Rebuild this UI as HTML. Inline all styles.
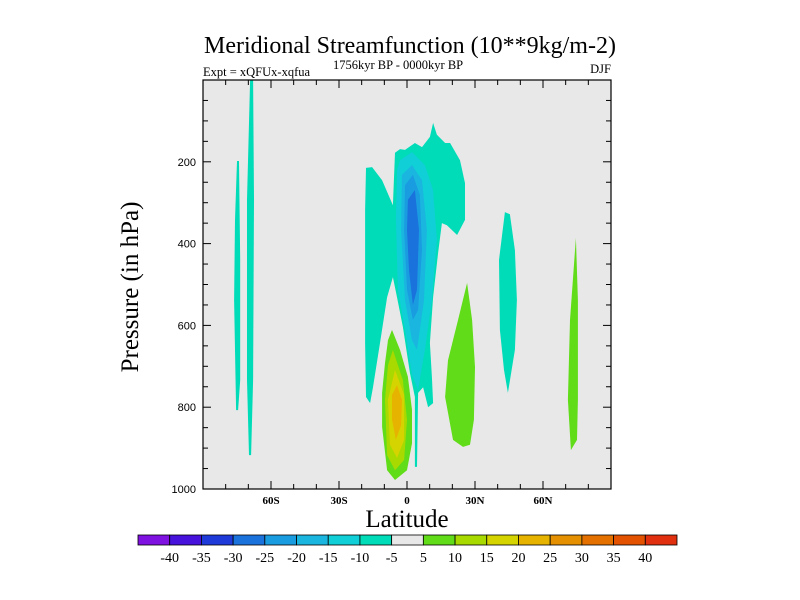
<!DOCTYPE html>
<html><head><meta charset="utf-8"><style>
body{margin:0;background:#fff;}
svg{display:block;}
.s{font-family:"Liberation Serif",serif;}
</style></head><body>
<svg id="chart" width="800" height="600" xmlns="http://www.w3.org/2000/svg">
<text class="s" x="410" y="53" font-size="24" text-anchor="middle">Meridional Streamfunction (10**9kg/m-2)</text>
<text class="s" x="203" y="76" font-size="12.5">Expt = xQFUx-xqfua</text>
<text class="s" x="333" y="69" font-size="12.5">1756kyr BP - 0000kyr BP</text>
<text class="s" x="611" y="73" font-size="12.5" text-anchor="end">DJF</text>
<rect x="203" y="80" width="408" height="409" fill="#e8e8e8"/>
<g id="contours"></g>
<g id="axes"></g>
<rect x="203" y="80" width="408" height="409" fill="none" stroke="#000" stroke-width="1.2"/>
<text class="s" x="407" y="527" font-size="25" text-anchor="middle">Latitude</text>
<text class="s" x="0" y="0" font-size="25" text-anchor="middle" transform="translate(138,287) rotate(-90)">Pressure (in hPa)</text>
<g id="colorbar"></g>
</svg>
<script>
const levelLabels = [-40,-35,-30,-25,-20,-15,-10,-5,5,10,15,20,25,30,35,40];
const levelColors = ["#7f12e0","#4612dc","#1e3ad8","#1a72dc","#1a9ce0","#1ab6e0","#10cfd6","#00dcb8","#e8e8e8","#60dc18","#a8da00","#d6d400","#e6b400","#e49000","#e47000","#e25200","#e03010"];
const xTickLabels = ["60S","30S","0","30N","60N"];
const xTickValues = [-60,-30,0,30,60];
const yTickValues = [200,400,600,800,1000];
// contour regions: level index into levelColors, points as [lat, hPa]
const regionLevels = [7,7,7,6,5,4,3,3,9,10,11,12,9,7,9];
const regionLat = [
 [-69.2,-67.9,-67.5,-67.9,-68.8,-69.7,-70.6,-70.6],
 [-75.0,-74.1,-73.6,-73.6,-74.5,-75.4,-76.3,-75.9],
 [-18.1,-15.4,-11.0,-6.2,-5.3,-3.1,-0.9,3.5,6.6,10.1,11.5,13.2,16.8,19.0,23.4,25.6,25.6,22.1,17.6,15.4,13.7,11.5,10.1,11.0,11.5,9.3,7.1,4.9,4.4,3.5,3.5,1.3,-1.8,-4.4,-6.2,-8.8,-11.9,-15.0,-16.3,-18.1,-18.5,-18.5],
 [-3.1,2.2,7.9,11.5,13.2,11.0,7.9,4.9,2.2,-0.9,-4.0,-4.9,-4.4],
 [-2.2,2.2,6.6,8.8,7.5,4.4,2.2,-0.9,-2.6],
 [-0.9,2.6,5.7,6.6,4.9,2.6,0,-1.3],
 [0.4,3.5,5.3,4.4,2.6,0.9,0],
 [1.8,3.5,4.4,3.5,2.2,1.3],
 [-6.6,-3.1,0.4,2.2,2.2,0,-5.3,-8.8,-11.0,-11.0,-9.7,-8.4],
 [-6.2,-1.8,0,-1.3,-5.3,-8.8,-9.7,-8.4],
 [-5.3,-1.3,-1.3,-4.4,-7.5,-8.4],
 [-4.4,-2.2,-2.6,-4.9,-6.6,-6.6],
 [26.5,28.7,30.0,29.5,27.8,24.7,20.3,16.8,18.1,22.5],
 [43.2,45.4,47.6,48.5,47.6,44.5,42.8,41.0,40.6],
 [74.5,75.4,75.4,75.0,72.3,71.0,71.9]
];
const regionP = [
 [0,0,293,734,917,917,734,293],
 [198,198,440,734,807,807,538,342],
 [215,213,245,306,178,169,171,154,164,139,105,134,154,154,196,252,342,379,355,350,423,531,643,726,790,800,751,765,946,946,775,716,604,531,482,531,643,751,790,775,643,318],
 [196,176,208,269,391,538,660,758,721,611,513,342,220],
 [232,208,245,367,538,660,636,538,367],
 [257,232,281,416,562,587,513,367],
 [293,269,367,513,550,465,367],
 [330,306,391,489,501,416],
 [611,660,726,807,888,954,978,954,848,765,692,636],
 [660,734,831,929,954,917,782,697],
 [709,770,880,924,892,782],
 [746,782,844,880,831,770],
 [496,587,702,831,892,897,880,775,685,587],
 [323,328,416,538,660,765,709,611,440],
 [386,538,782,880,905,782,587]
];
const NS="http://www.w3.org/2000/svg";
const X0=203,X1=611,Y0=80,Y1=489;
const xs=lat=>X0+(lat+90)/180*(X1-X0);
const ys=p=>Y0+p/1000*(Y1-Y0);
function mk(tag,attrs,parent){const e=document.createElementNS(NS,tag);for(const k in attrs)e.setAttribute(k,attrs[k]);parent.appendChild(e);return e;}
const cg=document.getElementById('contours');
regionLevels.forEach((lv,i)=>{
  const pts=regionLat[i].map((la,j)=>xs(la).toFixed(1)+','+ys(regionP[i][j]).toFixed(1)).join(' ');
  const pg=mk('polygon',{points:pts,fill:levelColors[lv]},cg);
  
  
});
const ag=document.getElementById('axes');
for(let la=-80;la<=80;la+=10){
  const maj=la%30===0, L=maj?8:5, x=xs(la);
  mk('line',{x1:x,y1:Y1,x2:x,y2:Y1-L,stroke:'#000'},ag);
  mk('line',{x1:x,y1:Y0,x2:x,y2:Y0+L,stroke:'#000'},ag);
}
for(let p=50;p<1000;p+=50){
  const maj=p%200===0, L=maj?8:5, y=ys(p);
  mk('line',{x1:X0,y1:y,x2:X0+L,y2:y,stroke:'#000'},ag);
  mk('line',{x1:X1,y1:y,x2:X1-L,y2:y,stroke:'#000'},ag);
}
xTickValues.forEach((v,i)=>{
  const t=mk('text',{x:xs(v),y:Y1+15,'font-size':11,'font-weight':'bold','text-anchor':'middle','font-family':'Liberation Serif, serif'},ag);
  t.textContent=xTickLabels[i];
  
  
});
yTickValues.forEach(v=>{
  const t=mk('text',{x:X0-7,y:ys(v)+4,'font-size':11,'text-anchor':'end','font-family':'Liberation Sans, sans-serif'},ag);
  t.textContent=v;
  
  
});
const cb=document.getElementById('colorbar');
const CB0=138,CB1=677,CBy=535,CBh=10,bw=(CB1-CB0)/levelColors.length;
levelColors.forEach((c,i)=>{
  const r=mk('rect',{x:CB0+i*bw,y:CBy,width:bw,height:CBh,fill:c,stroke:'#000','stroke-width':0.8},cb);
  
  
});
levelLabels.forEach((v,i)=>{
  const t=mk('text',{x:CB0+(i+1)*bw,y:CBy+27,'font-size':14,'text-anchor':'middle','font-family':'Liberation Serif, serif'},cb);
  t.textContent=v;
  
  
});
</script>
</body></html>
